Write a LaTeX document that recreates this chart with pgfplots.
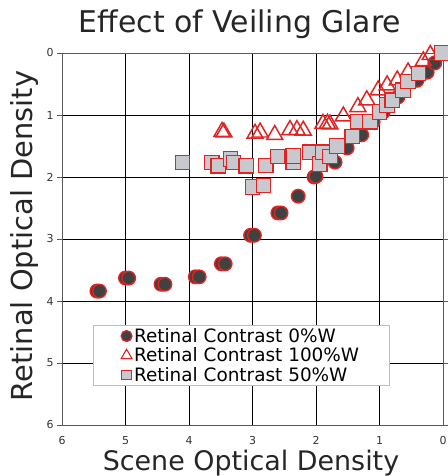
\documentclass[border=0pt]{standalone}
\usepackage{pgfplots}
\pgfplotsset{compat=1.18}
\usepackage{fontspec}
\setmainfont{DejaVu Sans}
\definecolor{mred}{RGB}{225,35,35}
\definecolor{dgray}{RGB}{64,66,66}
\definecolor{lgray}{RGB}{200,201,206}
\begin{document}
\begin{tikzpicture}
\path[use as bounding box] (-62bp,-51bp) rectangle (386bp,425bp);
\begin{axis}[
  scale only axis, width=381bp, height=372bp,
  xmin=0, xmax=6, ymin=0, ymax=6,
  x dir=reverse, y dir=reverse,
  xtick={0,1,2,3,4,5,6}, ytick={0,1,2,3,4,5,6},
  grid=major, major grid style={black, line width=0.9pt},
  axis line style={draw=gray!70!black, line width=0.9pt},
  xtick style={draw=none},
  ytick style={draw=gray!70!black, line width=0.8pt},
  tick align=outside, major tick length=5pt,
  tick label style={font=\fontsize{11}{12}\selectfont, text=black!80},
  /pgf/number format/assume math mode=true,
  xticklabel style={yshift=-3pt},
  legend style={at={(rel axis cs:0.081,0.269)}, anchor=north west,
    font=\fontsize{18.5}{22}\selectfont, draw=gray!50, line width=0.7pt,
    row sep=0pt, inner xsep=28pt, inner ysep=1pt},
  legend cell align=left,
  legend image code/.code={\draw[mark repeat=2,mark phase=2,#1] plot coordinates {(0cm,0cm) (0.2cm,0cm) (0.4cm,0cm)};},
  clip=false,
]
\addlegendimage{only marks, mark=*, mark size=5.5pt, mark options={draw=mred, fill=dgray, line width=1.2pt}}
\addlegendentry{Retinal Contrast 0\%W}
\addlegendimage{only marks, mark=triangle, mark size=6.3pt, mark options={draw=mred, fill=white, line width=1.1pt}}
\addlegendentry{Retinal Contrast 100\%W}
\addlegendimage{only marks, mark=square*, mark size=5pt, mark options={draw=mred, fill=lgray, line width=1.0pt}}
\addlegendentry{Retinal Contrast 50\%W}
\addplot[forget plot, only marks, mark=*, mark size=6.8pt, mark options={draw=mred, fill=dgray, line width=1.4pt}] coordinates {
(5.45,3.84) (5.41,3.84) (5.00,3.63) (4.95,3.63) (4.44,3.73) (4.38,3.73)
(3.90,3.61) (3.84,3.61) (3.49,3.40) (3.43,3.40) (3.03,2.94) (2.97,2.94)
(2.60,2.58) (2.55,2.58) (2.28,2.31) (2.03,2.00) (2.00,1.99)
(1.70,1.76) (1.51,1.53) (1.28,1.32) (1.10,1.11) (0.94,0.95)
(0.71,0.71) (0.41,0.44) (0.25,0.31) (0.13,0.16)
};
\addplot[forget plot, only marks, mark=triangle, mark size=9.3pt, mark options={draw=mred, fill=white, line width=1.5pt}] coordinates {
(3.48,1.27) (3.45,1.28) (2.96,1.30) (2.88,1.28) (2.65,1.32) (2.41,1.24) (2.30,1.24)
(2.20,1.25) (1.89,1.14) (1.82,1.14) (1.78,1.15) (1.57,1.02) (1.34,0.87) (1.20,0.76)
(1.02,0.60) (0.88,0.52) (0.72,0.44) (0.55,0.31) (0.31,0.13) (0.20,0.03)
};
\addplot[forget plot, only marks, mark=square*, mark size=7.2pt, mark options={draw=mred, fill=lgray, line width=1.1pt}] coordinates {
(4.10,1.77) (3.64,1.77) (3.54,1.82) (3.35,1.71) (3.30,1.77) (3.10,1.82)
(3.00,2.16) (2.83,2.14) (2.79,1.81) (2.61,1.67) (2.36,1.76) (2.36,1.66)
(2.10,1.60) (1.94,1.79) (1.89,1.60) (1.78,1.67) (1.67,1.50) (1.43,1.35)
(1.34,1.11) (1.15,1.11) (1.00,0.95) (0.88,0.84) (0.80,0.76) (0.63,0.60)
(0.55,0.46) (0.39,0.33) (0.02,0.00)
};
\end{axis}
\node[font=\fontsize{30}{32}\selectfont, anchor=base, text=black!85] at (178bp,392bp) {Effect of Veiling Glare};
\node[font=\fontsize{27}{29}\selectfont, anchor=base, text=black!85] at (189bp,-45bp) {Scene Optical Density};
\node[font=\fontsize{29}{31}\selectfont, rotate=90, anchor=base, text=black!85] at (-30bp,189bp) {Retinal Optical Density};
\end{tikzpicture}
\end{document}
